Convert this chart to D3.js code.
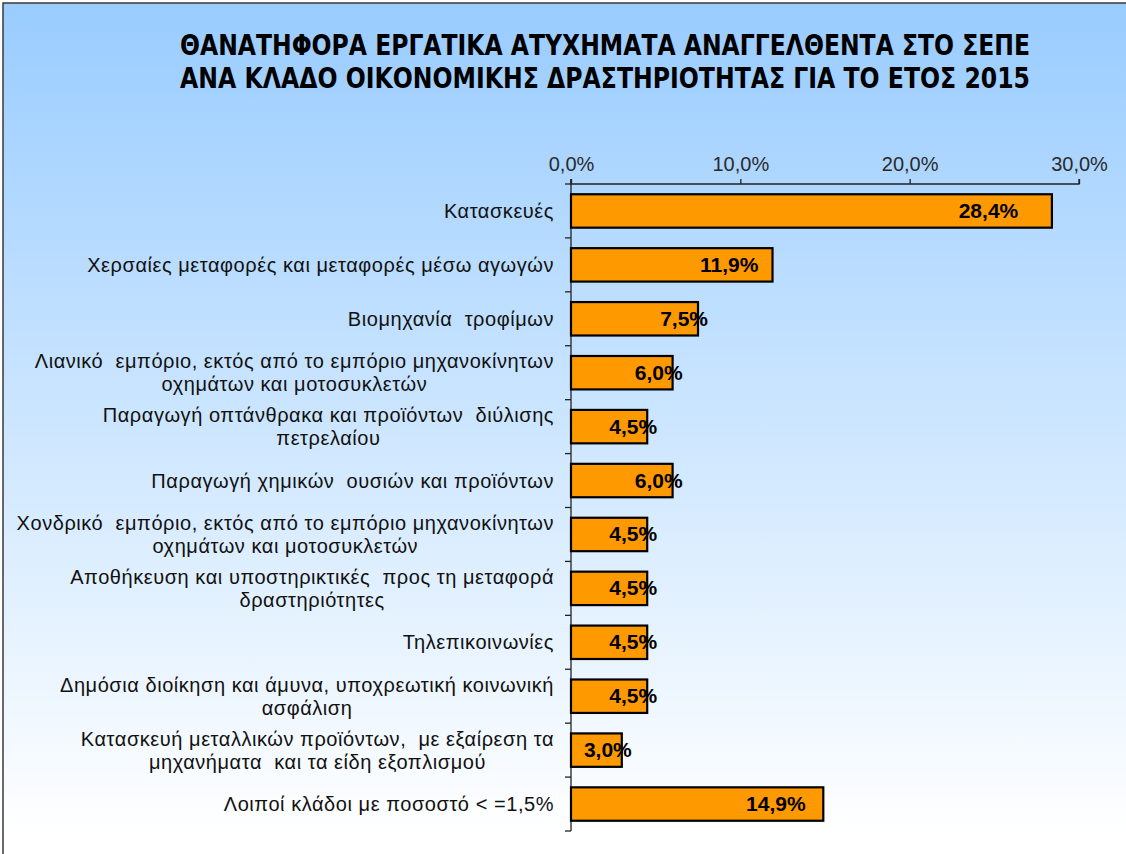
<!DOCTYPE html>
<html>
<head>
<meta charset="utf-8">
<script src="https://d3js.org/d3.v7.min.js"></script>
<style>
  body { margin: 0; background: #fff; }
  svg { display: block; font-family: "Liberation Sans", Arial, sans-serif; }
  .cat { font-size: 20px; letter-spacing: 0.55px; fill: #111; white-space: pre; }
  .tick-lbl { font-size: 20px; fill: #2a2a2a; }
  .val { font-size: 21px; font-weight: bold; fill: #000; }
  .title { font-family: "Liberation Sans Narrow", "DejaVu Sans Condensed", "Liberation Sans", sans-serif;
           font-size: 28px; font-weight: bold; fill: #000; }
</style>
</head>
<body>
<div id="chart"></div>
<script>
// chart data
var titleLines = [
  "ΘΑΝΑΤΗΦΟΡΑ ΕΡΓΑΤΙΚΑ ΑΤΥΧΗΜΑΤΑ ΑΝΑΓΓΕΛΘΕΝΤΑ ΣΤΟ ΣΕΠΕ",
  "ΑΝΑ ΚΛΑΔΟ ΟΙΚΟΝΟΜΙΚΗΣ ΔΡΑΣΤΗΡΙΟΤΗΤΑΣ ΓΙΑ ΤΟ ΕΤΟΣ 2015"
];
var categories = [
  "Κατασκευές",
  "Χερσαίες μεταφορές και μεταφορές μέσω αγωγών",
  "Βιομηχανία  τροφίμων",
  "Λιανικό  εμπόριο, εκτός από το εμπόριο μηχανοκίνητων\nοχημάτων και μοτοσυκλετών",
  "Παραγωγή οπτάνθρακα και προϊόντων  διύλισης\nπετρελαίου",
  "Παραγωγή χημικών  ουσιών και προϊόντων",
  "Χονδρικό  εμπόριο, εκτός από το εμπόριο μηχανοκίνητων\nοχημάτων και μοτοσυκλετών",
  "Αποθήκευση και υποστηρικτικές  προς τη μεταφορά\nδραστηριότητες",
  "Τηλεπικοινωνίες",
  "Δημόσια διοίκηση και άμυνα, υποχρεωτική κοινωνική\nασφάλιση",
  "Κατασκευή μεταλλικών προϊόντων,  με εξαίρεση τα\nμηχανήματα  και τα είδη εξοπλισμού",
  "Λοιποί κλάδοι με ποσοστό < =1,5%"
];
var values = [28.4, 11.9, 7.5, 6.0, 4.5, 6.0, 4.5, 4.5, 4.5, 4.5, 3.0, 14.9];
var xTicks = [0, 10, 20, 30];

var W = 1126, H = 854;
var margin = {top: 184, left: 571, right: 47, bottom: 23};

var fmt = function(v) { return d3.format(".1f")(v).replace(".", ",") + "%"; };

var svg = d3.select("#chart").append("svg")
  .attr("width", W)
  .attr("height", H);

// background gradient
var grad = svg.append("defs").append("linearGradient")
  .attr("id", "bg").attr("x1", 0).attr("y1", 0).attr("x2", 0).attr("y2", 1);
grad.append("stop").attr("offset", "0%").attr("stop-color", "#99ccff");
grad.append("stop").attr("offset", "95%").attr("stop-color", "#ffffff");
grad.append("stop").attr("offset", "100%").attr("stop-color", "#ffffff");

svg.append("rect")
  .attr("x", 3).attr("y", 3)
  .attr("width", W + 20).attr("height", H + 20)
  .attr("fill", "url(#bg)")
  .attr("stroke", "#3a3a3a")
  .attr("stroke-width", 1.5);

// title
svg.selectAll(".title")
  .data(titleLines)
  .enter().append("text")
    .attr("class", "title")
    .attr("x", 605)
    .attr("y", function(d, i) { return 55 + i * 33; })
    .attr("text-anchor", "middle")
    .attr("textLength", 850)
    .attr("lengthAdjust", "spacingAndGlyphs")
    .text(function(d) { return d; });

var x = d3.scaleLinear()
  .domain([0, 30])
  .range([margin.left, W - margin.right]);

var y = d3.scaleBand()
  .domain(d3.range(categories.length))
  .range([margin.top, H - margin.bottom])
  .paddingInner(0.38)
  .paddingOuter(0.19);

var band = (H - margin.bottom - margin.top) / categories.length;

// top axis
var xAxis = svg.append("g")
  .attr("transform", "translate(0," + margin.top + ")")
  .call(d3.axisTop(x).tickValues(xTicks).tickSize(5).tickFormat(function(d) { return fmt(d); }));
xAxis.select(".domain").attr("stroke", "#222").attr("stroke-width", 1.3).attr("d",
  "M" + x(0) + ",-5V0H" + x(30) + "V-5");
xAxis.selectAll(".tick line").attr("stroke", "#222").attr("stroke-width", 1.3);
xAxis.selectAll(".tick text")
  .attr("class", "tick-lbl")
  .attr("y", -13)
  .attr("font-family", null).attr("font-size", null).attr("fill", null);

// left axis line with band separators
var yAxis = svg.append("g");
yAxis.append("line")
  .attr("x1", x(0)).attr("x2", x(0))
  .attr("y1", margin.top - 5).attr("y2", H - margin.bottom)
  .attr("stroke", "#222").attr("stroke-width", 1.3);
yAxis.selectAll(".sep")
  .data(d3.range(categories.length + 1))
  .enter().append("line")
    .attr("x1", x(0) - 6).attr("x2", x(0))
    .attr("y1", function(i) { return margin.top + i * band; })
    .attr("y2", function(i) { return margin.top + i * band; })
    .attr("stroke", "#222").attr("stroke-width", 1.3);

// bars
svg.append("g")
  .selectAll("rect")
  .data(values)
  .enter().append("rect")
    .attr("x", x(0))
    .attr("y", function(d, i) { return y(i); })
    .attr("width", function(d) { return x(d) - x(0); })
    .attr("height", y.bandwidth())
    .attr("fill", "#ff9900")
    .attr("stroke", "#000")
    .attr("stroke-width", 2.2);

// value labels
svg.append("g")
  .selectAll("text")
  .data(values)
  .enter().append("text")
    .attr("class", "val")
    .attr("text-anchor", "end")
    .attr("x", function(d) {
      var len = x(d) - x(0);
      return d >= 10 ? x(d) - 0.07 * len : x(d) + 10;
    })
    .attr("y", function(d, i) { return y(i) + y.bandwidth() / 2 + 7; })
    .text(function(d) { return fmt(d); });

// category labels (wrapped lines centred inside a right-aligned block)
var labelRight = 554;
var lineH = 23;
categories.forEach(function(c, i) {
  var lines = c.split("\n");
  var g = svg.append("g");
  var cy = y(i) + y.bandwidth() / 2;
  var texts = lines.map(function(l, k) {
    return g.append("text")
      .attr("class", "cat")
      .attr("text-anchor", "middle")
      .attr("y", cy + 7 + (k - (lines.length - 1) / 2) * lineH)
      .text(l);
  });
  var maxW = d3.max(texts, function(t) { return t.node().getComputedTextLength(); });
  texts.forEach(function(t) { t.attr("x", labelRight - maxW / 2); });
});
</script>
</body>
</html>
